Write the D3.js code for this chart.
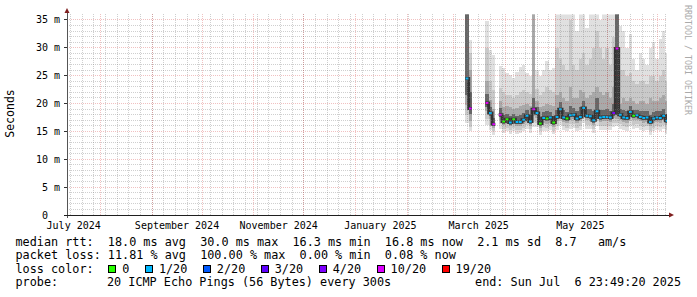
<!DOCTYPE html>
<html>
<head>
<meta charset="utf-8">
<script src="https://cdn.jsdelivr.net/npm/d3@7"></script>
<style>
  body { margin: 0; background: #fff; }
  svg text { font-family: "DejaVu Sans Mono", monospace; white-space: pre; }
</style>
</head>
<body>
<svg id="chart" width="697" height="297"></svg>
<script>
// Sample dates (2-day consolidation steps)
const dates = [
  "2025-03-08","2025-03-10","2025-03-12","2025-03-14","2025-03-16","2025-03-18","2025-03-20","2025-03-22",
  "2025-03-24","2025-03-26","2025-03-28","2025-03-30","2025-04-01","2025-04-03","2025-04-05","2025-04-07",
  "2025-04-09","2025-04-11","2025-04-13","2025-04-15","2025-04-17","2025-04-19","2025-04-21","2025-04-23",
  "2025-04-25","2025-04-27","2025-04-29","2025-05-01","2025-05-03","2025-05-05","2025-05-07","2025-05-09",
  "2025-05-11","2025-05-13","2025-05-15","2025-05-17","2025-05-19","2025-05-21","2025-05-23","2025-05-25",
  "2025-05-27","2025-05-29","2025-05-31","2025-06-02","2025-06-04","2025-06-06","2025-06-08","2025-06-10",
  "2025-06-12","2025-06-14","2025-06-16","2025-06-18","2025-06-20","2025-06-22","2025-06-24","2025-06-26",
  "2025-06-28","2025-06-30","2025-07-02","2025-07-04","2025-07-06"
];
// values in ms
const median = [
  24.5,19.1,null,null,null,null,20.1,18.3, 16.3,null,18.0,16.8,17.2,16.6,17.2,16.7,
  16.7,17.1,17.8,16.8,19.0,18.3,16.4,17.4, 17.3,17.5,16.6,17.6,19.0,17.5,17.3,17.9,
  18.0,17.3,17.6,19.2,17.8,17.7,17.0,18.6, 17.5,17.6,17.6,17.5,18.3,29.9,18.0,17.5,
  17.4,18.5,17.8,17.9,17.6,17.4,17.5,16.7, 17.3,17.5,17.4,17.8,16.9
];
const lossCount = [
  1,10,null,null,null,null,10,1, 10,null,10,0,0,1,0,1,
  1,1,1,1,10,1,0,1, 0,1,0,1,1,1,0,1,
  1,1,1,1,1,1,1,1, 1,1,1,1,4,10,1,1,
  1,1,0,1,1,1,1,1, 1,1,1,1,1
];
const pingMin = [
  16.5,15.0,null,null,null,null,16.2,15.3, 14.3,null,15.4,14.8,15.0,14.6,15.0,14.6,
  14.7,15.0,15.5,14.8,15.8,15.8,14.4,15.1, 15.1,15.2,14.5,15.2,16.2,15.2,15.0,15.5,
  15.7,15.0,15.3,16.6,15.5,15.4,14.8,16.0, 15.2,15.3,15.3,15.2,15.8,16.0,15.5,15.2,
  15.1,16.0,15.5,15.6,15.3,15.1,15.2,14.4, 15.0,15.2,15.1,15.5,14.6
];
const ping10 = [
  18.0,15.8,null,null,null,null,17.3,16.1, 15.0,null,16.4,15.5,15.7,15.3,15.7,15.3,
  15.3,15.6,16.2,15.4,16.7,16.6,15.0,15.8, 15.7,15.9,15.1,16.0,17.1,15.9,15.7,16.3,
  16.4,15.7,16.0,17.5,16.2,16.1,15.5,16.9, 15.9,16.0,16.0,15.9,16.6,16.5,16.3,15.9,
  15.8,16.8,16.2,16.3,16.0,15.8,15.9,15.1, 15.7,15.9,15.8,16.2,15.3
];
const ping25 = [
  19.8,16.9,null,null,null,null,18.6,17.2, 15.6,null,17.1,16.1,16.4,15.9,16.4,15.9,
  16.0,16.3,16.9,16.0,17.8,17.4,15.7,16.5, 16.4,16.6,15.8,16.8,18.0,16.7,16.5,17.1,
  17.2,16.5,16.8,18.3,17.0,16.9,16.2,17.7, 16.7,16.8,16.8,16.7,17.4,17.2,17.1,16.7,
  16.6,17.6,17.0,17.1,16.8,16.6,16.7,15.9, 16.5,16.7,16.6,17.0,16.1
];
const ping40 = [
  21.5,18.2,null,null,null,null,19.4,17.8, 15.9,null,17.6,16.4,16.8,16.2,16.8,16.3,
  16.3,16.7,17.4,16.4,18.5,17.9,16.0,17.0, 16.9,17.1,16.2,17.2,18.5,17.1,16.9,17.5,
  17.6,16.9,17.2,18.7,17.4,17.3,16.6,18.1, 17.1,17.2,17.2,17.1,17.8,18.0,17.6,17.1,
  17.0,18.0,17.4,17.5,17.2,17.0,17.1,16.3, 16.9,17.1,17.0,17.4,16.5
];
const ping60 = [
  40.0,22.0,null,null,null,null,21.8,19.4, 17.4,null,19.2,17.9,18.2,17.7,18.1,17.8,
  17.9,18.3,18.8,17.9,21.0,19.3,17.6,18.5, 18.6,18.5,17.8,18.9,20.2,18.8,18.5,19.6,
  19.2,18.6,19.4,20.4,19.0,19.0,18.6,21.0, 18.9,18.8,19.0,18.7,20.0,40.0,19.0,18.8,
  18.6,19.6,18.9,18.9,18.7,18.6,18.6,18.0, 18.5,18.6,18.6,19.0,18.1
];
const ping75 = [
  40.0,26.0,null,null,null,null,24.0,20.6, 19.0,null,20.5,19.4,19.6,19.3,19.0,19.2,
  19.5,19.8,20.0,19.5,38.0,20.5,19.4,19.5, 20.0,19.8,19.5,21.5,22.0,21.0,20.5,23.0,
  21.0,21.0,22.5,22.0,21.0,21.5,22.0,23.0, 22.0,21.5,22.0,21.0,23.0,40.0,20.0,21.0,
  20.5,21.0,20.5,20.0,20.5,20.5,20.0,21.0, 20.5,20.5,21.0,21.5,20.5
];
const ping90 = [
  40.0,29.0,null,null,null,null,30.0,24.0, 22.5,null,22.8,22.0,21.6,21.5,21.0,21.6,
  22.0,22.5,22.0,21.8,40.0,22.6,21.5,22.0, 23.0,22.4,22.0,30.0,28.0,27.0,26.0,35.0,
  27.0,26.0,28.0,29.0,27.0,28.0,30.0,33.0, 30.0,28.0,30.0,27.0,32.0,40.0,26.0,26.0,
  25.0,25.5,24.0,23.5,24.0,24.0,23.5,25.0, 25.0,24.0,25.0,26.0,24.0
];
const pingMax = [
  40.0,31.4,null,null,null,null,34.8,29.6, 28.7,null,26.7,26.4,25.4,25.2,24.5,25.6,
  26.6,27.0,25.5,25.0,40.0,26.0,25.0,26.0, 27.6,26.0,26.4,40.0,40.0,40.0,40.0,40.0,
  40.0,33.0,40.0,40.0,33.5,40.0,40.0,40.0, 35.0,40.0,40.0,40.0,40.0,40.0,34.0,33.0,
  30.0,32.5,28.0,26.0,29.0,28.0,27.0,30.0, 31.0,28.0,31.5,33.0,29.0
];

const lossLevels = [0, 1, 2, 3, 4, 10, 19];
const lossLabels = ["0", "1/20", "2/20", "3/20", "4/20", "10/20", "19/20"];
const lossColors = ["#26ff00", "#00b8ff", "#0059ff", "#5e00ff", "#7e00ff", "#dd00ff", "#ff0000"];

const yTicks = [0, 5, 10, 15, 20, 25, 30, 35];
const monthLabels = ["July 2024", "September 2024", "November 2024", "January 2025", "March 2025", "May 2025"];
const monthLabelDates = ["2024-07-01", "2024-09-01", "2024-11-01", "2025-01-01", "2025-03-01", "2025-05-01"];

const legendLines = [
  "median rtt:  18.0 ms avg  30.0 ms max  16.3 ms min  16.8 ms now  2.1 ms sd  8.7   am/s",
  "packet loss: 11.81 % avg  100.00 % max  0.00 % min  0.08 % now"
];
const probeText = "20 ICMP Echo Pings (56 Bytes) every 300s";
const endText = "end: Sun Jul  6 23:49:20 2025";

// ---- setup
const svg = d3.select("#chart");
const parse = d3.timeParse("%Y-%m-%d");
const stepDays = 2;
const tEnd = new Date(2025, 6, 6, 23, 49, 20);
const tStart = d3.timeDay.offset(tEnd, -360);

const pL = 67, pR = 667, pB = 215, pT = 14.4;
const x = d3.scaleTime().domain([tStart, tEnd]).range([pL, pR]);
const y = d3.scaleLinear().domain([0, 36]).range([pB, pT]);

const lossColor = n => {
  let k = 0;
  lossLevels.forEach((l, i) => { if (n >= l) k = i; });
  return lossColors[k];
};

svg.append("defs").append("clipPath").attr("id", "clip")
  .append("rect").attr("x", pL).attr("y", pT).attr("width", pR - pL).attr("height", pB - pT);

const plot = svg.append("g").attr("clip-path", "url(#clip)");
const idx = dates.map((d, i) => i).filter(i => median[i] != null);
const x0 = i => x(parse(dates[i]));
const x1 = i => x(d3.timeDay.offset(parse(dates[i]), stepDays));

// smoke bands, outer to inner
const bands = [
  { lo: pingMin, hi: pingMax, fill: "#e0e0e0" },
  { lo: ping10, hi: ping90, fill: "#c9c9c9" },
  { lo: ping25, hi: ping75, fill: "#a9a9a9" },
  { lo: ping40, hi: ping60, fill: "#676767" }
];
bands.forEach(b => {
  plot.append("g").selectAll("rect")
    .data(idx)
    .join("rect")
    .attr("x", x0)
    .attr("width", i => x1(i) - x0(i))
    .attr("y", i => y(b.hi[i]))
    .attr("height", i => y(b.lo[i]) - y(b.hi[i]))
    .attr("fill", b.fill)
    .attr("shape-rendering", "crispEdges");
});

// dark core along the median
const medPts = [];
dates.forEach((d, i) => {
  if (median[i] == null) { medPts.push(null); return; }
  medPts.push([x0(i), y(median[i])], [x1(i), y(median[i])]);
});
plot.append("path")
  .attr("d", d3.line().defined(p => p != null).x(p => p[0]).y(p => p[1])(medPts))
  .attr("fill", "none")
  .attr("stroke", "#333")
  .attr("stroke-width", 3);

// median coloured by loss
plot.append("g").selectAll("line")
  .data(idx)
  .join("line")
  .attr("x1", i => x0(i) + 0.3)
  .attr("x2", i => x1(i) - 0.3)
  .attr("y1", i => y(median[i]))
  .attr("y2", i => y(median[i]))
  .attr("stroke", i => lossColor(lossCount[i]))
  .attr("stroke-width", 2);

// grid on top
const grid = svg.append("g").attr("shape-rendering", "crispEdges").attr("stroke-dasharray", "1,1");
const minorY = d3.range(1, 36).filter(v => v % 5 !== 0);
grid.selectAll(".hmin").data(minorY).join("line")
  .attr("x1", pL).attr("x2", pR).attr("y1", d => y(d)).attr("y2", d => y(d))
  .attr("stroke", "rgba(130,130,130,0.38)");
grid.selectAll(".vmin").data(d3.timeSunday.range(tStart, tEnd)).join("line")
  .attr("x1", d => x(d)).attr("x2", d => x(d)).attr("y1", pT).attr("y2", pB)
  .attr("stroke", "rgba(130,130,130,0.38)");
grid.selectAll(".hmaj").data(yTicks.slice(1)).join("line")
  .attr("x1", pL).attr("x2", pR).attr("y1", d => y(d)).attr("y2", d => y(d))
  .attr("stroke", "rgba(210,50,50,0.3)");
grid.selectAll(".vmaj").data(d3.timeMonth.range(tStart, tEnd)).join("line")
  .attr("x1", d => x(d)).attr("x2", d => x(d)).attr("y1", pT).attr("y2", pB)
  .attr("stroke", "rgba(210,50,50,0.3)");

// axes
const ax = svg.append("g").attr("shape-rendering", "crispEdges");
ax.selectAll(".ytick").data(yTicks).join("line")
  .attr("x1", pL - 3).attr("x2", pL).attr("y1", d => y(d)).attr("y2", d => y(d))
  .attr("stroke", "#333");
ax.append("line").attr("x1", pL).attr("x2", pL).attr("y1", pB + 3).attr("y2", 11)
  .attr("stroke", "#555");
ax.append("line").attr("x1", pL - 3).attr("x2", 671).attr("y1", pB).attr("y2", pB)
  .attr("stroke", "#1f1f1f");
svg.append("path").attr("d", `M${pL - 2.5},13 L${pL},8 L${pL + 2.5},13 Z`).attr("fill", "#7f1f1f");
svg.append("path").attr("d", `M669,${pB - 2.5} L674,${pB} L669,${pB + 2.5} Z`).attr("fill", "#7f1f1f");

// y labels
svg.append("g").selectAll("text").data(yTicks).join("text")
  .attr("x", 60).attr("y", d => y(d)).attr("dy", "0.35em")
  .attr("text-anchor", "end")
  .style("font-size", "10px")
  .text(d => d === 0 ? "0  " : `${d} m`);

// x labels (centred half a month after the month start)
svg.append("g").selectAll("text").data(monthLabels).join("text")
  .attr("x", (d, i) => x(d3.timeDay.offset(parse(monthLabelDates[i]), 15)))
  .attr("y", 229)
  .attr("text-anchor", "middle")
  .style("font-size", "10px")
  .text(d => d);

// y title
svg.append("text")
  .attr("transform", "translate(14,113.5) rotate(-90)")
  .attr("text-anchor", "middle")
  .style("font-size", "11.5px")
  .text("Seconds");

// watermark
svg.append("text")
  .attr("transform", "translate(685,5) rotate(90)")
  .style("font-size", "8.3px")
  .attr("fill", "#aaaaaa")
  .text("RRDTOOL / TOBI OETIKER");

// legend
const fs = "11.8px";
const base = [245.5, 259, 272.7, 286.3];
legendLines.forEach((t, i) => {
  svg.append("text").attr("x", 15.5).attr("y", base[i]).style("font-size", fs).text(t);
});
svg.append("text").attr("x", 15.5).attr("y", base[2]).style("font-size", fs).text("loss color:");
let lx = 108.3;
lossLabels.forEach((lab, i) => {
  svg.append("rect").attr("x", lx + 0.5).attr("y", 265.5).attr("width", 7).attr("height", 7)
    .attr("fill", lossColors[i]).attr("stroke", "#000").attr("shape-rendering", "crispEdges");
  const t = svg.append("text").attr("x", lx + 14).attr("y", base[2]).style("font-size", fs).text(lab);
  lx = lx + 14 + t.node().getComputedTextLength() + 15.5;
});
svg.append("text").attr("x", 15.5).attr("y", base[3]).style("font-size", fs).text("probe:");
svg.append("text").attr("x", 107).attr("y", base[3]).style("font-size", fs).text(probeText);
svg.append("text").attr("x", 681).attr("y", base[3]).attr("text-anchor", "end").style("font-size", fs).text(endText);
</script>
</body>
</html>
